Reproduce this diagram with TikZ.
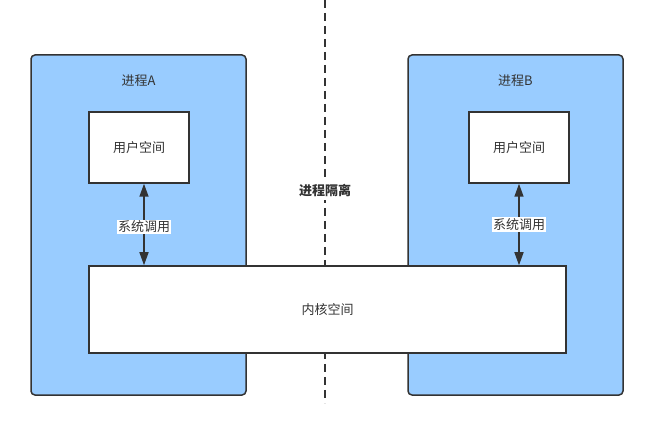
\documentclass[tikz,border=0pt]{standalone}
\usepackage{fontspec}
\setmainfont{Noto Sans CJK SC}
\usetikzlibrary{positioning}
\usetikzlibrary{arrows.meta}
\definecolor{procblue}{HTML}{99CCFF}
\definecolor{linegray}{HTML}{333333}
\tikzstyle{process} = [draw=linegray, fill=procblue, rounded corners=4pt, line width=1.5pt, minimum width=215pt, minimum height=340pt]
\tikzstyle{block} = [draw=linegray, fill=white, line width=1.5pt, minimum width=100pt, minimum height=71pt, text=linegray, font=\fontsize{13}{15}\selectfont]
\tikzstyle{caption} = [text=linegray, font=\fontsize{13}{15}\selectfont, inner sep=1pt]
\tikzstyle{call} = [{Triangle[length=13pt,width=9pt]}-{Triangle[length=13pt,width=9pt]}, draw=linegray, line width=1.5pt]
\tikzstyle{border} = [draw=linegray, line width=1.5pt, dash pattern=on 8pt off 5pt]

\begin{document}
\begin{tikzpicture}[x=1pt,y=1pt]
    \useasboundingbox (0,0) rectangle (653,423);

    \coordinate (top) at (325,423);
    \coordinate (bottom) at (325,20);
    \draw [border] (top) -- (bottom); % isolation line

    \node [process] (procA) at (138.5,198) {};
    \node [process] (procB) at (515.5,198) {};
    \node [caption, below = 19pt of procA.north] (nameA) {进程A};
    \node [caption, below = 19pt of procB.north] (nameB) {进程B};

    \node [block] (userA) at (139,275.5) {用户空间};
    \node [block] (userB) at (519,275.5) {用户空间};
    \node [block, minimum width=477pt, minimum height=87pt] (kernel) at (327.5,113.5) {内核空间};

    \node [caption, fill=white, inner sep=3pt, font=\fontsize{13}{15}\selectfont\bfseries] (iso) at (325,232) {进程隔离};

    \draw [call] ([xshift=5pt]userA.south) -- node[caption, fill=white, pos=0.53] (callA) {系统调用} ([xshift=5pt]userA.south |- kernel.north);
    \draw [call] (userB.south) -- node[caption, fill=white, pos=0.5] (callB) {系统调用} (userB.south |- kernel.north);
\end{tikzpicture}
\end{document}
